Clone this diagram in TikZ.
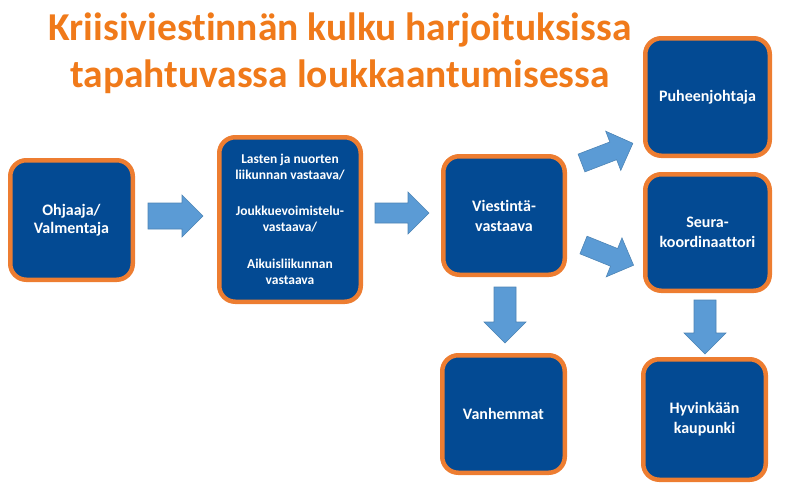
\documentclass[tikz,border=0pt]{standalone}
\usepackage{fontspec}
\setmainfont[Ligatures=NoCommon]{Carlito}
\usetikzlibrary{calc}
\definecolor{boxblue}{HTML}{034A93}
\definecolor{boxedge}{HTML}{ED7D31}
\definecolor{titleorange}{HTML}{F07A1A}
\definecolor{arrowblue}{HTML}{5B9BD5}

%block arrow: tail point, angle, shaft half width, length
\newcommand{\blockarrow}[4]{%
  \fill[arrowblue,draw=arrowblue!85!black,line width=0.6pt,shift={#1},rotate=#2]
  (0,#3) -- (#4-21,#3) -- (#4-21,21) -- (#4,0) -- (#4-21,-21) -- (#4-21,-#3) -- (0,-#3) -- cycle;}

\begin{document}
\begin{tikzpicture}
[x=1pt,y=-1pt,
box/.style={draw=boxedge,line width=4.5pt,fill=boxblue,rounded corners=16pt,text=white,font=\bfseries\fontsize{16}{20}\selectfont,align=center,inner sep=0pt},
title/.style={text=titleorange,font=\bfseries\fontsize{39.5}{46}\selectfont,anchor=base,inner sep=0pt},]

\useasboundingbox (0,0) rectangle (785,483);

%Title
\node[title] (t1) at (340,40) {Kriisiviestinnän kulku harjoituksissa};
\node[title] (t2) at (340,87) {tapahtuvassa loukkaantumisessa};

%Boxes
\node (ohj) at (71.5,220)[box,minimum width=122.5pt,minimum height=119.5pt,font=\bfseries\fontsize{16}{18}\selectfont] {Ohjaaja/\\Valmentaja};
\node (vas) at (290,219.5)[box,minimum width=141.5pt,minimum height=164.5pt,font=\bfseries\fontsize{13.5}{16}\selectfont] {Lasten ja nuorten\\liikunnan vastaava/\\[20pt]Joukkuevoimistelu-\\vastaava/\\[21pt]Aikuisliikunnan\\vastaava};
\node (vie) at (504,215.5)[box,minimum width=121.5pt,minimum height=118.5pt] {Viestintä-\\vastaava};
\node (puh) at (707.5,97)[box,minimum width=124.5pt,minimum height=117.5pt] {Puheenjohtaja};
\node (seu) at (707.5,232.5)[box,minimum width=124.5pt,minimum height=116.5pt] {Seura-\\koordinaattori};
\node (van) at (503.5,414)[box,minimum width=122.5pt,minimum height=117.5pt] {Vanhemmat};
\node (hyv) at (704.5,419.5)[box,minimum width=122.5pt,minimum height=120.5pt] {Hyvinkään\\kaupunki};

%Arrows
\blockarrow{(148,216)}{0}{13}{55}
\blockarrow{(375,213)}{0}{10}{54}
\blockarrow{(505,287)}{-90}{11}{56}
\blockarrow{(705,300)}{-90}{11}{54}
\blockarrow{(581.5,163)}{21}{9.5}{55}
\blockarrow{(583.5,245)}{-22}{9.5}{54}

\end{tikzpicture}
\end{document}
